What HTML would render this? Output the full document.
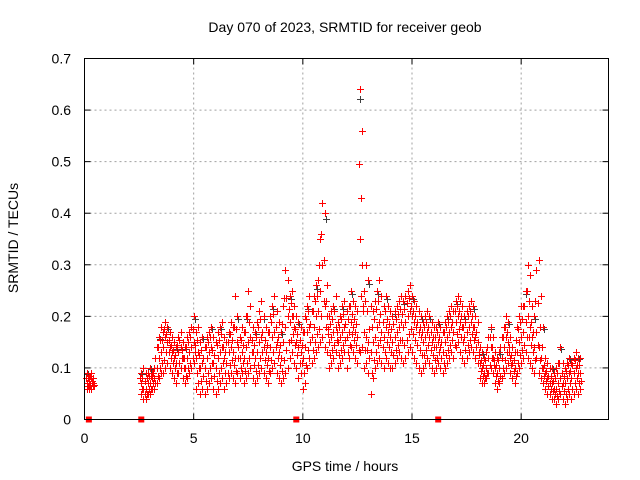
<!DOCTYPE html>
<html><head><meta charset="utf-8"><style>
body{margin:0;background:#fff}
svg{display:block;font-family:"Liberation Sans",sans-serif}
</style></head><body>
<svg id="chart" width="640" height="480" viewBox="0 0 640 480">
<rect width="640" height="480" fill="#fff"/>
<g id="grid"></g>
<g id="pts"></g>
<rect x="84.5" y="58.5" width="524" height="361" fill="none" stroke="#000" stroke-width="1"/>
<g id="axes"></g>
<text x="345" y="32" font-size="14" text-anchor="middle">Day 070 of 2023, SRMTID for receiver geob</text>
<text x="345" y="471" font-size="14" text-anchor="middle">GPS time / hours</text>
<text transform="translate(18,238) rotate(-90)" font-size="14" text-anchor="middle">SRMTID / TECUs</text>
</svg>
<script>
const xTicks=[0,5,10,15,20];
const yTicks=[0,0.1,0.2,0.3,0.4,0.5,0.6,0.7];
const yTickLabels=["0","0.1","0.2","0.3","0.4","0.5","0.6","0.7"];
const timeRanges=[[0.1,0.4],[2.6,22.7]];
const gapMarks=[0.2,2.6,9.7,16.2];
const lo=[.06,.06,.06,.065,
.05,.04,.04,.05,.05,.06,.06,.07,.08,.09,
.09,.10,.11,.10,.09,.08,.07,.09,.10,.08,.07,.08,.09,.10,.11,
.06,.07,.05,.06,.05,.06,.07,.08,.06,.05,.06,.07,.08,.06,.07,.08,.09,.08,.07,.09,
.08,.09,.07,.08,.09,.10,.08,.07,.08,.09,.10,.09,.08,.07,.09,.10,.11,.09,.08,.07,
.08,.09,.10,.12,.13,.11,.10,.08,.09,.06,.07,.10,.12,.11,.12,.13,.14,
.15,.16,.14,.13,
.10,.11,.12,.13,.10,.11,.12,.13,.10,.12,.14,.13,.12,.11,
.13,.14,
.10,.11,.09,.05,.08,.10,.11,.12,.11,.10,.12,.11,.10,
.10,.11,.12,.13,.12,.11,.12,.13,.14,.13,.12,.11,.10,.09,.10,.11,.12,.11,.10,.09,
.10,.11,.10,.09,.10,.11,.12,.13,.12,.14,.15,.13,.12,.11,.12,.13,.14,.13,.12,.11,
.08,.07,.07,.08,.09,.10,.09,.07,.06,.07,.08,.09,.10,.11,.09,.08,.07,.09,.10,.11,
.12,.13,.12,.11,.10,.09,.12,.09,.08,.07,
.06,.05,.05,.04,.04,.03,.04,.05,.04,.03,.04,.05,.04,.05,.06,.05,.06];
const mid=[.07,.075,.08,.07,
.07,.06,.06,.07,.07,.08,.08,.10,.12,.13,
.14,.16,.15,.14,.13,.12,.11,.13,.14,.12,.10,.12,.13,.14,.15,
.12,.13,.10,.11,.10,.12,.13,.14,.11,.10,.12,.13,.14,.12,.11,.13,.14,.13,.12,.15,
.12,.13,.12,.14,.15,.16,.13,.12,.13,.15,.16,.14,.13,.12,.14,.16,.17,.15,.13,.12,
.15,.18,.20,.19,.20,.18,.15,.14,.13,.12,.14,.17,.18,.16,.18,.20,.21,
.25,.30,.22,.20,
.15,.16,.17,.18,.15,.16,.17,.18,.16,.17,.19,.18,.17,.16,
.35,.30,
.17,.16,.15,.13,.15,.16,.18,.19,.17,.16,.18,.17,.16,
.15,.16,.17,.18,.19,.18,.19,.20,.21,.20,.19,.18,.17,.16,.15,.16,.17,.16,.15,.14,
.14,.15,.14,.13,.15,.16,.17,.18,.17,.19,.20,.19,.18,.16,.17,.18,.19,.18,.16,.15,
.11,.10,.09,.10,.12,.14,.12,.10,.09,.10,.12,.14,.16,.15,.12,.11,.10,.13,.15,.16,
.17,.19,.20,.18,.16,.14,.17,.14,.12,.10,
.09,.08,.07,.07,.06,.06,.07,.08,.07,.07,.08,.09,.08,.09,.10,.09,.09];
const hi=[.09,.085,.09,.08,
.09,.10,.09,.09,.10,.09,.10,.14,.16,.18,
.17,.19,.18,.17,.16,.15,.14,.16,.17,.15,.14,.16,.17,.18,.20,
.17,.18,.15,.16,.14,.16,.17,.18,.16,.15,.17,.18,.19,.16,.15,.17,.19,.18,.24,.20,
.16,.18,.17,.20,.25,.22,.18,.17,.19,.21,.23,.20,.18,.17,.20,.22,.24,.21,.19,.17,
.22,.29,.27,.24,.25,.22,.20,.19,.18,.17,.20,.22,.24,.21,.24,.26,.27,
.35,.42,.40,.26,
.20,.21,.22,.24,.19,.20,.22,.23,.21,.22,.25,.23,.22,.21,
.64,.56,
.25,.30,.27,.22,.21,.23,.25,.27,.24,.22,.24,.22,.21,
.20,.21,.22,.23,.24,.23,.24,.25,.26,.24,.23,.22,.21,.20,.19,.20,.21,.20,.19,.18,
.18,.19,.18,.17,.19,.20,.21,.22,.21,.23,.24,.23,.22,.20,.21,.22,.23,.22,.20,.19,
.14,.13,.12,.13,.16,.18,.16,.13,.12,.13,.16,.18,.20,.19,.16,.14,.13,.18,.20,.22,
.22,.25,.30,.28,.22,.20,.29,.31,.24,.18,
.12,.11,.10,.10,.09,.10,.11,.14,.11,.10,.11,.12,.11,.12,.13,.12,.12];

const X0=84.5,X1=608.5,Y0=419.5,Y1=58.5;
function xs(v){return X0+(v/24)*(X1-X0);}
function ys(v){return Y0-(v/0.7)*(Y0-Y1);}
const NS="http://www.w3.org/2000/svg";
function mk(tag,attrs,parent){const e=document.createElementNS(NS,tag);for(const k in attrs)e.setAttribute(k,attrs[k]);parent.appendChild(e);return e;}
const grid=document.getElementById('grid'),axes=document.getElementById('axes'),pts=document.getElementById('pts');
const times=[];
timeRanges.forEach(r=>{for(let i=Math.round(r[0]*10);i<=Math.round(r[1]*10);i++)times.push(i/10);});
xTicks.forEach(t=>{
  const x=xs(t);
  if(t>0){const g=mk('line',{x1:x,x2:x,y1:Y0,y2:Y1,stroke:'#a0a0a0','stroke-dasharray':'2,3'},grid);
  
  }
  const tk=mk('line',{x1:x,x2:x,y1:Y0,y2:Y0-6,stroke:'#000'},axes);
  
  
  mk('line',{x1:x,x2:x,y1:Y1,y2:Y1+6,stroke:'#000'},axes);
  const l=mk('text',{x:x,y:443,'font-size':14,'text-anchor':'middle'},axes);l.textContent=t;
  
  
});
yTicks.forEach((t,i)=>{
  const y=ys(t);
  if(t>0&&t<0.7){const g=mk('line',{x1:X0,x2:X1,y1:y,y2:y,stroke:'#a0a0a0','stroke-dasharray':'2,3'},grid);
  
  }
  const tk=mk('line',{x1:X0,x2:X0+6,y1:y,y2:y,stroke:'#000'},axes);
  
  
  mk('line',{x1:X1,x2:X1-6,y1:y,y2:y,stroke:'#000'},axes);
  const l=mk('text',{x:71,y:y+5,'font-size':14,'text-anchor':'end'},axes);l.textContent=yTickLabels[i];
  
  
});
function plus(t,v,col){
  const x=Math.round(xs(t))+0.5,y=Math.round(ys(v))+0.5;
  const p=mk('path',{d:`M${x-3.5} ${y}H${x+3.5}M${x} ${y-3.5}V${y+3.5}`,stroke:col,'stroke-width':1,fill:'none'},pts);
  
  
}
times.forEach((t,i)=>{ if(i%4===0&&hi[i]!==undefined) plus(t+0.04,hi[i]*0.97,'#404040'); });
times.forEach((t,i)=>{
  [lo,mid,hi].forEach(s=>{ if(s[i]!==undefined) plus(t,s[i],'#ff0000'); });
  if(mid[i]!==undefined&&lo[i]!==undefined) plus(t+0.05,(mid[i]+lo[i])/2,'#ff0000');
  if(mid[i]!==undefined&&hi[i]!==undefined) plus(t-0.05,(mid[i]+hi[i])/2,'#ff0000');
});
gapMarks.forEach(t=>{
  const r=mk('rect',{x:xs(t)-3,y:Y0-3,width:6,height:6,fill:'#ff0000'},pts);
  
  
});
</script>
</body></html>
